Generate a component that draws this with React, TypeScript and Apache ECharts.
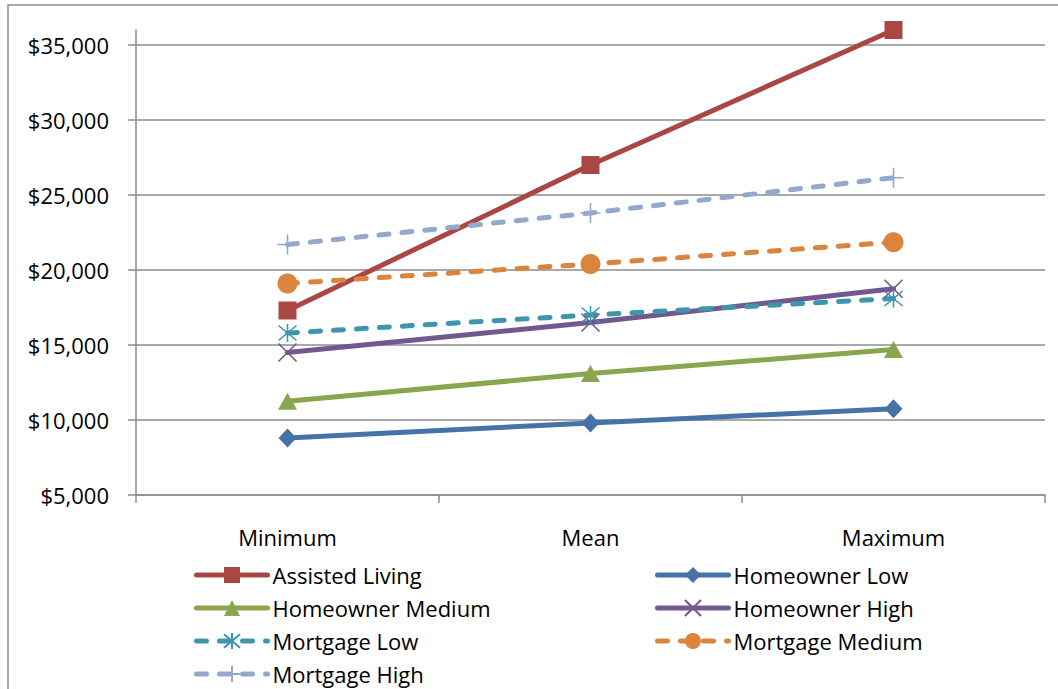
import React, { useEffect, useRef } from "react";
import * as echarts from "echarts";

// Annual cost by housing/care scenario
const categories = ["Minimum", "Mean", "Maximum"];
const assistedLiving = [17300, 27000, 36000];
const homeownerLow = [8800, 9800, 10750];
const homeownerMedium = [11250, 13100, 14700];
const homeownerHigh = [14500, 16500, 18750];
const mortgageLow = [15800, 17000, 18100];
const mortgageMedium = [19100, 20400, 21850];
const mortgageHigh = [21700, 23800, 26150];

// Legend layout: two columns, filled row by row
const legendLeftColumn = ["Assisted Living", "Homeowner Medium", "Mortgage Low", "Mortgage High"];
const legendRightColumn = ["Homeowner Low", "Homeowner High", "Mortgage Medium"];

// Value axis: labelled from $5,000 to $35,000 every $5,000, plotted up to $36,000
const axisMin = 5000;
const labelMax = 35000;
const plotMax = 36000;
const tickStep = 5000;

const FONT = "'Open Sans', sans-serif";
const GRAY = "#8c8c8c";
const LINE_W = 5;

const X_MARK = "path://M0,0L10,10M10,0L0,10";
const STAR_MARK = "path://M0,0L10,10M10,0L0,10M5,-1L5,11";
const PLUS_MARK = "path://M5,0L5,10M0,5L10,5";

function money(v: number): string {
  return "$" + v.toLocaleString("en-US");
}

export default function App() {
  const ref = useRef<HTMLDivElement>(null);

  useEffect(() => {
    if (!ref.current) return;
    const chart = echarts.init(ref.current, undefined, { renderer: "svg" });

    const line = (
      name: string,
      data: number[],
      color: string,
      symbol: string,
      size: number | number[],
      dashed: boolean,
      stroked: boolean
    ) => ({
      name,
      type: "line",
      data,
      xAxisIndex: 0,
      yAxisIndex: 0,
      symbol,
      symbolSize: size,
      showAllSymbol: true,
      clip: false,
      lineStyle: dashed
        ? { color, width: LINE_W, type: [10, 13], cap: "round" }
        : { color, width: LINE_W, cap: "round" },
      itemStyle: stroked ? { color, borderColor: color, borderWidth: 1.6 } : { color },
    });

    // One legend per entry so every row sits at an exact position
    const legendItem = (name: string, left: number, row: number) => ({
      orient: "vertical",
      padding: 0,
      left,
      top: 564 + row * 33,
      itemWidth: 71,
      itemHeight: 20,
      selectedMode: false,
      lineStyle: { width: LINE_W },
      textStyle: { fontSize: 22, fontFamily: FONT, color: "#000" },
      data: [name],
    });

    chart.setOption({
      animation: false,
      backgroundColor: "#fff",
      textStyle: { fontFamily: FONT },
      graphic: [
        {
          type: "rect",
          silent: true,
          z: -10,
          shape: { x: 8, y: 5, width: 1200, height: 900 },
          style: { fill: "none", stroke: GRAY, lineWidth: 1.5 },
        },
      ],
      legend: [
        ...legendLeftColumn.map((n, i) => legendItem(n, 194, i)),
        ...legendRightColumn.map((n, i) => legendItem(n, 655, i)),
      ],
      grid: [
        { left: 136, right: 13, top: 30, bottom: 194 },
        { left: 136, right: 13, top: 45, bottom: 194 },
      ],
      xAxis: [
        {
          type: "category",
          gridIndex: 0,
          data: categories,
          boundaryGap: true,
          axisLine: { show: true, lineStyle: { color: GRAY, width: 1.5 } },
          axisTick: { show: true, length: 8, alignWithLabel: false, lineStyle: { color: GRAY, width: 1.5 } },
          axisLabel: { fontSize: 22, fontFamily: FONT, color: "#000", margin: 31 },
          splitLine: { show: false },
        },
        {
          type: "category",
          gridIndex: 1,
          data: categories,
          show: false,
        },
      ],
      yAxis: [
        {
          type: "value",
          gridIndex: 0,
          min: axisMin,
          max: plotMax,
          axisLine: { show: true, lineStyle: { color: GRAY, width: 1.5 } },
          axisTick: { show: false },
          axisLabel: { show: false },
          splitLine: { show: false },
        },
        {
          type: "value",
          gridIndex: 1,
          min: axisMin,
          max: labelMax,
          interval: tickStep,
          axisLine: { show: false },
          axisTick: { show: true, length: 8, lineStyle: { color: GRAY, width: 1.5 } },
          axisLabel: {
            fontSize: 22,
            fontFamily: FONT,
            color: "#000",
            margin: 27,
            formatter: (v: number) => money(v),
          },
          splitLine: { show: true, lineStyle: { color: GRAY, width: 1.5 } },
        },
      ],
      series: [
        line("Assisted Living", assistedLiving, "#AA4643", "rect", 18, false, false),
        line("Homeowner Low", homeownerLow, "#4572A7", "diamond", [18, 19], false, false),
        line("Homeowner Medium", homeownerMedium, "#89A54E", "triangle", [19, 17], false, false),
        line("Homeowner High", homeownerHigh, "#71588F", X_MARK, 18, false, true),
        line("Mortgage Low", mortgageLow, "#3D96AE", STAR_MARK, 18, true, true),
        line("Mortgage Medium", mortgageMedium, "#DB843D", "circle", 20, true, false),
        line("Mortgage High", mortgageHigh, "#92A8CD", PLUS_MARK, 20, true, true),
      ],
    });

    return () => chart.dispose();
  }, []);

  return (
    <div
      ref={ref}
      style={{ position: "fixed", left: 0, top: 0, width: 1058, height: 689, background: "#fff" }}
    />
  );
}
